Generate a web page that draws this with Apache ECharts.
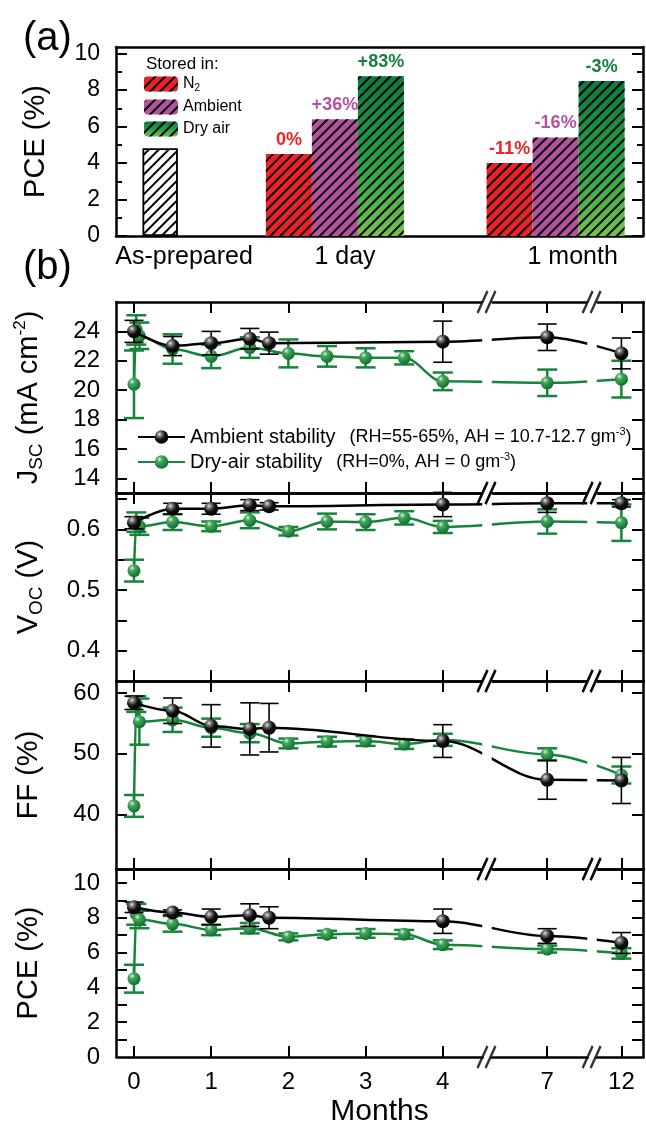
<!DOCTYPE html>
<html>
<head>
<meta charset="utf-8">
<script src="https://cdn.jsdelivr.net/npm/echarts@6.0.0/dist/echarts.min.js"></script>
<style>
  html, body { margin: 0; padding: 0; background: #fff; }
  #chart { width: 646px; height: 1128px; }
</style>
</head>
<body>
<div id="chart"></div>
<script>
// ---- (a) PCE after storage ----
const categories = ['As-prepared', '1 day', '1 month'];
const storedIn = ['N2', 'Ambient', 'Dry air'];
const pceAsPrepared = [4.8];
const pceN2 = [4.5, 4.0];
const pceAmbientStore = [6.4, 5.4];
const pceDryAirStore = [8.75, 8.5];
const changeN2 = ['0%', '-11%'];
const changeAmbient = ['+36%', '-16%'];
const changeDryAir = ['+83%', '-3%'];

// ---- (b) stability vs months ----
const monthsAmbient = [0, 0.5, 1, 1.5, 1.75, 4, 7, 12];
const monthsDryAir = [0, 0.03, 0.07, 0.5, 1, 1.5, 2, 2.5, 3, 3.5, 4, 7, 12];
const monthTicks = [0, 1, 2, 3, 4, 7, 12];

const jscAmbient = [24.0, 23.0, 23.2, 23.5, 23.2, 23.3, 23.6, 22.5];
const jscAmbientErr = [0.75, 0.65, 0.8, 0.7, 0.75, 1.4, 0.9, 1.05];
const jscDryAir = [20.4, 24.1, 23.7, 22.8, 22.3, 22.9, 22.5, 22.3, 22.2, 22.2, 20.6, 20.5, 20.75];
const jscDryAirErr = [2.3, 1.0, 0.9, 1.0, 0.8, 0.7, 0.95, 0.7, 0.65, 0.45, 0.6, 0.9, 1.25];

const vocAmbient = [0.611, 0.634, 0.634, 0.640, 0.638, 0.641, 0.643, 0.643];
const vocAmbientErr = [0.01, 0.009, 0.009, 0.009, 0.006, 0.02, 0.015, 0.006];
const vocDryAir = [0.532, 0.612, 0.605, 0.612, 0.605, 0.615, 0.597, 0.613, 0.612, 0.619, 0.604, 0.613, 0.611];
const vocDryAirErr = [0.018, 0.016, 0.014, 0.013, 0.008, 0.013, 0.007, 0.013, 0.013, 0.011, 0.01, 0.02, 0.03];

const ffAmbient = [58.4, 57.1, 54.6, 54.1, 54.3, 52.1, 45.7, 45.6];
const ffAmbientErr = [1.1, 2.1, 3.5, 4.3, 4.0, 2.7, 3.2, 3.8];
const ffDryAir = [41.4, 58.2, 55.3, 55.6, 54.3, 53.4, 51.7, 52.0, 52.1, 51.6, 52.3, 49.9, 46.5];
const ffDryAirErr = [1.8, 1.3, 3.8, 2.0, 1.5, 1.5, 0.8, 0.8, 0.8, 0.8, 1.0, 1.0, 1.4];

const pceAmbient = [8.6, 8.3, 8.05, 8.15, 8.0, 7.8, 6.95, 6.55];
const pceAmbientErr = [0.3, 0.15, 0.45, 0.65, 0.63, 0.7, 0.42, 0.6];
const pceDryAir = [4.5, 8.2, 7.9, 7.65, 7.3, 7.4, 6.9, 7.05, 7.1, 7.05, 6.45, 6.2, 5.95];
const pceDryAirErr = [0.8, 0.6, 0.5, 0.45, 0.3, 0.3, 0.2, 0.2, 0.25, 0.25, 0.25, 0.2, 0.3];

// ---- layout / styles ----
const FONT = "'Liberation Sans', Arial, sans-serif";
const RED = '#ec2227', PURPLE = '#b5529f', GREEN = '#178539';
const groupAt = [0.96, 4.76, 9.56];   // bar group centres on the hidden x scale (a)
const labelAt = [1.48, 4.98, 9.93];   // category label centres (a)
const X_MIN = -0.233, X_MAX = 12.28;
const BREAKS = [
  { start: 4.505, end: 6.275, gap: '1.8%' },
  { start: 7.514, end: 11.676, gap: '1.8%' }
];

const hatch = { symbol: 'rect', symbolSize: 1, color: '#000', dashArrayX: [1, 0], dashArrayY: [1.3, 5], rotation: -Math.PI / 4 };
const dryGradient = { type: 'linear', x: 0, y: 0, x2: 0, y2: 1, colorStops: [
  { offset: 0, color: '#0d7a3e' }, { offset: 0.5, color: '#21a24a' }, { offset: 1, color: '#74c24b' }] };
const ballBlack = { type: 'radial', x: 0.35, y: 0.3, r: 0.75, colorStops: [
  { offset: 0, color: '#e6e6e6' }, { offset: 0.22, color: '#777' }, { offset: 0.55, color: '#111' }, { offset: 1, color: '#000' }] };
const ballGreen = { type: 'radial', x: 0.35, y: 0.3, r: 0.75, colorStops: [
  { offset: 0, color: '#dff2df' }, { offset: 0.28, color: '#45a85e' }, { offset: 1, color: '#0c6a2b' }] };

const axisLine = { show: true, onZero: false, lineStyle: { color: '#000', width: 2.5 } };
const tickStyle = { color: '#000', width: 2 };

// ---- grids ----
const grids = [{ left: 116, top: 47, width: 527, height: 189 }];
const panelTops = [302, 493, 681, 869];
const panelHeights = [191, 188, 188, 188];
panelTops.forEach((t, i) => grids.push({ left: 116, top: t, width: 527, height: panelHeights[i] }));

// ---- axes (a) ----
const xAxes = [
  { gridIndex: 0, type: 'value', min: 0, max: 11.46, position: 'bottom', axisLine, axisTick: { show: false }, splitLine: { show: false },
    axisLabel: { customValues: labelAt, formatter: v => categories[labelAt.indexOf(v)] || '', fontSize: 25, color: '#000', fontFamily: FONT, margin: 9 } },
  { gridIndex: 0, type: 'value', min: 0, max: 11.46, position: 'top', axisLine, axisTick: { show: false }, axisLabel: { show: false }, splitLine: { show: false } }
];
const yAxes = [
  { gridIndex: 0, type: 'value', min: 0, max: 10.36, position: 'left', axisLine,
    name: 'PCE (%)', nameLocation: 'middle', nameGap: 66, nameTextStyle: { fontSize: 29, color: '#000', fontFamily: FONT },
    axisTick: { inside: true, length: 11, customValues: [0, 2, 4, 6, 8, 10], lineStyle: tickStyle },
    axisLabel: { customValues: [0, 2, 4, 6, 8, 10], fontSize: 23, color: '#000', fontFamily: FONT, margin: 16 }, splitLine: { show: false } },
  { gridIndex: 0, type: 'value', min: 0, max: 10.36, position: 'left', axisLine: { show: false, onZero: false },
    axisTick: { inside: true, length: 6, customValues: [1, 3, 5, 7, 9], lineStyle: tickStyle }, axisLabel: { show: false }, splitLine: { show: false } },
  { gridIndex: 0, type: 'value', min: 0, max: 10.36, position: 'right', axisLine,
    axisTick: { inside: true, length: 11, customValues: [0, 2, 4, 6, 8, 10], lineStyle: tickStyle }, axisLabel: { show: false }, splitLine: { show: false } },
  { gridIndex: 0, type: 'value', min: 0, max: 10.36, position: 'right', axisLine: { show: false, onZero: false },
    axisTick: { inside: true, length: 6, customValues: [1, 3, 5, 7, 9], lineStyle: tickStyle }, axisLabel: { show: false }, splitLine: { show: false } }
];

// ---- panels (b) ----
const panels = [
  { min: 13, max: 26, ticks: [14, 16, 18, 20, 22, 24], labels: [14, 16, 18, 20, 22, 24], fmt: v => String(v),
    name: '{n|J}{sub|SC}{n| (mA cm}{sup|-2}{n|)}',
    amb: jscAmbient, ambErr: jscAmbientErr, dry: jscDryAir, dryErr: jscDryAirErr },
  { min: 0.35, max: 0.66, ticks: [0.4, 0.45, 0.5, 0.55, 0.6, 0.65], labels: [0.4, 0.5, 0.6], fmt: v => v.toFixed(1),
    name: '{n|V}{sub|OC}{n| (V)}',
    amb: vocAmbient, ambErr: vocAmbientErr, dry: vocDryAir, dryErr: vocDryAirErr },
  { min: 31, max: 62, ticks: [40, 50, 60], labels: [40, 50, 60], fmt: v => String(v),
    name: '{n|FF (%)}',
    amb: ffAmbient, ambErr: ffAmbientErr, dry: ffDryAir, dryErr: ffDryAirErr },
  { min: 0, max: 10.8, ticks: [1, 2, 3, 4, 5, 6, 7, 8, 9, 10], labels: [0, 2, 4, 6, 8, 10], fmt: v => String(v),
    name: '{n|PCE (%)}',
    amb: pceAmbient, ambErr: pceAmbientErr, dry: pceDryAir, dryErr: pceDryAirErr }
];

const nameRich = {
  n: { fontSize: 29, lineHeight: 34, color: '#000', fontFamily: FONT },
  sub: { fontSize: 19, lineHeight: 19, verticalAlign: 'bottom', color: '#000', fontFamily: FONT },
  sup: { fontSize: 17, lineHeight: 17, verticalAlign: 'top', color: '#000', fontFamily: FONT }
};

const breakArea = { show: true, itemStyle: { color: '#fff', borderColor: '#fff', borderWidth: 0, opacity: 1 },
  zigzagAmplitude: 0, zigzagZ: 100, expandOnClick: false };

function errorBar(color, lw, cap) {
  return function (params, api) {
    const x = api.value(0);
    const top = api.coord([x, api.value(2)]);
    const bot = api.coord([x, api.value(1)]);
    const h = cap / 2;
    const style = { stroke: color, lineWidth: lw };
    return { type: 'group', children: [
      { type: 'line', shape: { x1: top[0], y1: top[1], x2: bot[0], y2: bot[1] }, style },
      { type: 'line', shape: { x1: top[0] - h, y1: top[1], x2: top[0] + h, y2: top[1] }, style },
      { type: 'line', shape: { x1: bot[0] - h, y1: bot[1], x2: bot[0] + h, y2: bot[1] }, style }
    ] };
  };
}

const series = [
  { name: 'As-prepared', type: 'bar', xAxisIndex: 1, yAxisIndex: 0, barWidth: 35,
    data: pceAsPrepared.map(v => [groupAt[0], v]),
    itemStyle: { color: '#fff', borderColor: '#000', borderWidth: 1.5, decal: hatch } },
  { name: 'N2', type: 'bar', xAxisIndex: 0, yAxisIndex: 0, barWidth: 46, barGap: '0%',
    data: pceN2.map((v, i) => [groupAt[i + 1], v]),
    itemStyle: { color: RED, decal: hatch },
    label: { show: true, position: 'top', distance: 5, formatter: p => changeN2[p.dataIndex], color: RED, fontWeight: 'bold', fontSize: 18, fontFamily: FONT } },
  { name: 'Ambient', type: 'bar', xAxisIndex: 0, yAxisIndex: 0, barWidth: 46, barGap: '0%',
    data: pceAmbientStore.map((v, i) => [groupAt[i + 1], v]),
    itemStyle: { color: PURPLE, decal: hatch },
    label: { show: true, position: 'top', distance: 5, formatter: p => changeAmbient[p.dataIndex], color: PURPLE, fontWeight: 'bold', fontSize: 18, fontFamily: FONT } },
  { name: 'Dry air', type: 'bar', xAxisIndex: 0, yAxisIndex: 0, barWidth: 46, barGap: '0%',
    data: pceDryAirStore.map((v, i) => [groupAt[i + 1], v]),
    itemStyle: { color: dryGradient, decal: hatch },
    label: { show: true, position: 'top', distance: 5, formatter: p => changeDryAir[p.dataIndex], color: '#17803f', fontWeight: 'bold', fontSize: 18, fontFamily: FONT } }
];

panels.forEach((p, k) => {
  const gi = k + 1;
  const xb = xAxes.length, yl = yAxes.length;
  const last = k === panels.length - 1;
  const xCommon = { gridIndex: gi, type: 'value', min: X_MIN, max: X_MAX, breaks: BREAKS.map(b => Object.assign({}, b)),
    breakArea, axisLine, splitLine: { show: false },
    axisTick: { inside: true, length: 11, customValues: monthTicks, lineStyle: tickStyle } };
  xAxes.push(Object.assign({}, xCommon, { position: 'bottom',
    axisLabel: last ? { customValues: monthTicks, fontSize: 24, color: '#000', fontFamily: FONT, margin: 13 } : { show: false },
    name: last ? 'Months' : '', nameLocation: 'middle', nameGap: 40, nameTextStyle: { fontSize: 30, color: '#000', fontFamily: FONT } }));
  xAxes.push(Object.assign({}, xCommon, { position: 'top', axisLabel: { show: false } }));
  yAxes.push({ gridIndex: gi, type: 'value', min: p.min, max: p.max, position: 'left', axisLine, splitLine: { show: false },
    name: p.name, nameLocation: 'middle', nameGap: 70, nameTextStyle: { rich: nameRich },
    axisTick: { inside: true, length: 11, customValues: p.ticks, lineStyle: tickStyle },
    axisLabel: { customValues: p.labels, formatter: p.fmt, fontSize: 24, color: '#000', fontFamily: FONT, margin: 16 } });
  yAxes.push({ gridIndex: gi, type: 'value', min: p.min, max: p.max, position: 'right', axisLine, splitLine: { show: false },
    axisTick: { inside: true, length: 11, customValues: p.ticks, lineStyle: tickStyle }, axisLabel: { show: false } });

  series.push(
    { type: 'custom', xAxisIndex: xb, yAxisIndex: yl, renderItem: errorBar(GREEN, 2.5, 20), silent: true, z: 2,
      encode: { x: 0, y: [1, 2] }, data: p.dry.map((v, i) => [monthsDryAir[i], v - p.dryErr[i], v + p.dryErr[i]]) },
    { name: 'Dry-air stability', type: 'line', xAxisIndex: xb, yAxisIndex: yl, z: 3,
      data: p.dry.map((v, i) => [monthsDryAir[i], v]), smooth: 0.35, smoothMonotone: 'x',
      symbol: 'circle', symbolSize: 13, lineStyle: { color: GREEN, width: 2.5 }, itemStyle: { color: ballGreen } },
    { type: 'custom', xAxisIndex: xb, yAxisIndex: yl, renderItem: errorBar('#000', 1.6, 19), silent: true, z: 4,
      encode: { x: 0, y: [1, 2] }, data: p.amb.map((v, i) => [monthsAmbient[i], v - p.ambErr[i], v + p.ambErr[i]]) },
    { name: 'Ambient stability', type: 'line', xAxisIndex: xb, yAxisIndex: yl, z: 5,
      data: p.amb.map((v, i) => [monthsAmbient[i], v]), smooth: 0.35, smoothMonotone: 'x',
      symbol: 'circle', symbolSize: 14, lineStyle: { color: '#000', width: 2.5 }, itemStyle: { color: ballBlack } },
    // "//" marks where the month axis is broken
    { type: 'scatter', xAxisIndex: xb, yAxisIndex: yl, z: 300, silent: true, clip: false,
      symbol: 'path://M0,22L10,0M8,22L18,0', symbolSize: [18, 22],
      itemStyle: { color: 'none', borderColor: '#000', borderWidth: 2.5 },
      data: BREAKS.flatMap(b => [[(b.start + b.end) / 2, p.min], [(b.start + b.end) / 2, p.max]]) }
  );
});

const chart = echarts.init(document.getElementById('chart'));
chart.setOption({
  animation: false,
  backgroundColor: '#fff',
  textStyle: { fontFamily: FONT, color: '#000' },
  title: [
    { text: '(a)', left: 18, top: 14, textStyle: { fontSize: 40, fontWeight: 'normal', fontFamily: FONT, color: '#000' } },
    { text: '(b)', left: 18, top: 243, textStyle: { fontSize: 40, fontWeight: 'normal', fontFamily: FONT, color: '#000' } },
    { text: 'Stored in:', left: 141, top: 51, textStyle: { fontSize: 17, fontWeight: 'normal', fontFamily: FONT, color: '#000' } }
  ],
  legend: [
    { data: storedIn, orient: 'vertical', left: 139, top: 71, itemWidth: 34, itemHeight: 15, itemGap: 6,
      formatter: n => n === 'N2' ? '{a|N}{s|2}' : '{a|' + n + '}',
      textStyle: { fontSize: 16, fontFamily: FONT, color: '#000',
        rich: { a: { fontSize: 16, lineHeight: 18, fontFamily: FONT, color: '#000' },
                s: { fontSize: 10, lineHeight: 10, verticalAlign: 'bottom', fontFamily: FONT, color: '#000' } } } },
    { data: ['Ambient stability', 'Dry-air stability'], orient: 'vertical', left: 132, top: 421, itemWidth: 47, itemHeight: 17, itemGap: 4,
      z: 400,
      formatter: n => n === 'Ambient stability'
        ? '{m|Ambient stability}{g|}{p|(RH=55-65%, AH = 10.7-12.7 gm}{s|-3}{p|)}'
        : '{m|Dry-air stability}{g|}{p|(RH=0%, AH = 0 gm}{s|-3}{p|)}',
      textStyle: { color: '#000', fontFamily: FONT,
        rich: { m: { fontSize: 20, lineHeight: 22, fontFamily: FONT, color: '#000' },
                g: { width: 14 },
                p: { fontSize: 18, lineHeight: 22, fontFamily: FONT, color: '#000' },
                s: { fontSize: 11, lineHeight: 11, verticalAlign: 'top', fontFamily: FONT, color: '#000' } } } }
  ],
  grid: grids,
  xAxis: xAxes,
  yAxis: yAxes,
  series
});
</script>
</body>
</html>
